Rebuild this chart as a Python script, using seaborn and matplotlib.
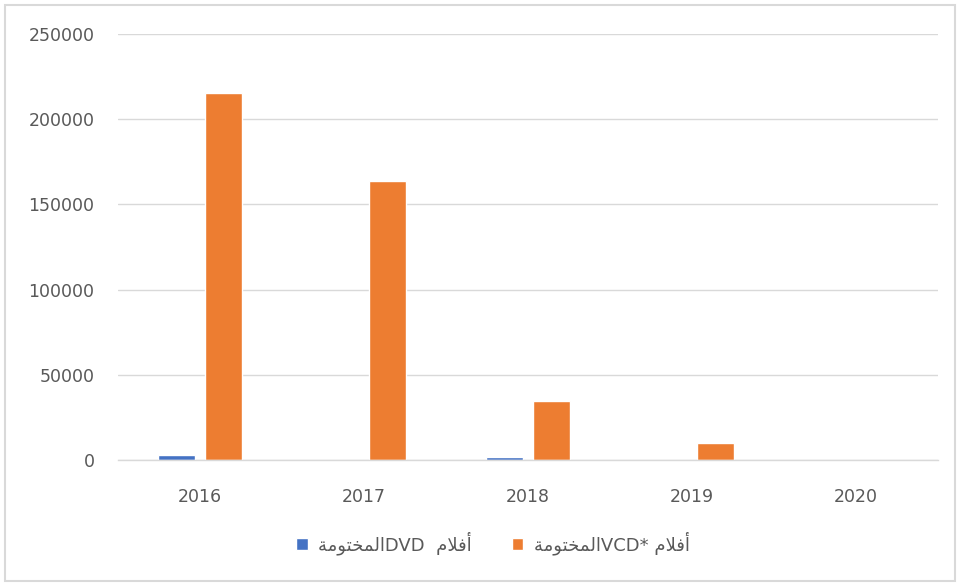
import pandas as pd
import matplotlib.pyplot as plt
import seaborn as sns
from matplotlib.patches import Rectangle

# Arabic words written as presentation forms in visual (left-to-right) order,
# since matplotlib does no shaping / bidi
mkhtuma = '\ufe94\ufee3\ufeee\ufe98\ufea8\ufee4\ufedf\ufe8d'  # المختومة
aflam = '\ufee1\ufefc\ufed3\ufe83'  # أفلام

years = ['2016', '2017', '2018', '2019', '2020']
dvd = [3000, 0, 1500, 0, 0]
vcd = [215500, 163700, 34500, 10200, 0]
label_dvd = mkhtuma + 'DVD  ' + aflam
label_vcd = mkhtuma + 'VCD* ' + aflam

df = pd.DataFrame({
    'year': years * 2,
    'value': dvd + vcd,
    'series': [label_dvd] * len(years) + [label_vcd] * len(years),
})

sns.set_style('white')
plt.rcParams['font.family'] = ['DejaVu Sans']

fig = plt.figure(figsize=(9.57, 5.83), dpi=100)
ax = fig.add_axes([118 / 957, 123 / 583, 820 / 957, 426 / 583])

sns.barplot(data=df, x='year', y='value', hue='series',
            palette=['#4472C4', '#ED7D31'], saturation=1,
            width=0.58, gap=0.22, ax=ax, legend=True)

ax.set_xlim(-0.5, 4.5)
ax.set_ylim(0, 250000)
ax.set_yticks(range(0, 250001, 50000))
ax.yaxis.grid(True, color='#d9d9d9', linewidth=1)
ax.set_axisbelow(True)
for s in ['top', 'right', 'left']:
    ax.spines[s].set_visible(False)
ax.spines['bottom'].set_color('#d9d9d9')
ax.spines['bottom'].set_linewidth(1)
ax.tick_params(axis='both', length=0, labelsize=12.5, colors='#595959')
ax.tick_params(axis='y', pad=17)
ax.tick_params(axis='x', pad=20)
ax.set_xlabel('')
ax.set_ylabel('')

handles, labels = ax.get_legend_handles_labels()
ax.legend(handles, labels, loc='center', bbox_to_anchor=(493 / 957, 40 / 583),
          bbox_transform=fig.transFigure, ncol=2, frameon=False,
          fontsize=13, labelcolor='#595959', handlelength=0.65, handleheight=0.65,
          columnspacing=2.2, handletextpad=0.6)

fig.patches.append(Rectangle((5 / 957, 2 / 583), 950 / 957, 576 / 583,
                             transform=fig.transFigure, fill=False,
                             edgecolor='#d9d9d9', linewidth=1.5))

fig.savefig('out.png', dpi=100)
